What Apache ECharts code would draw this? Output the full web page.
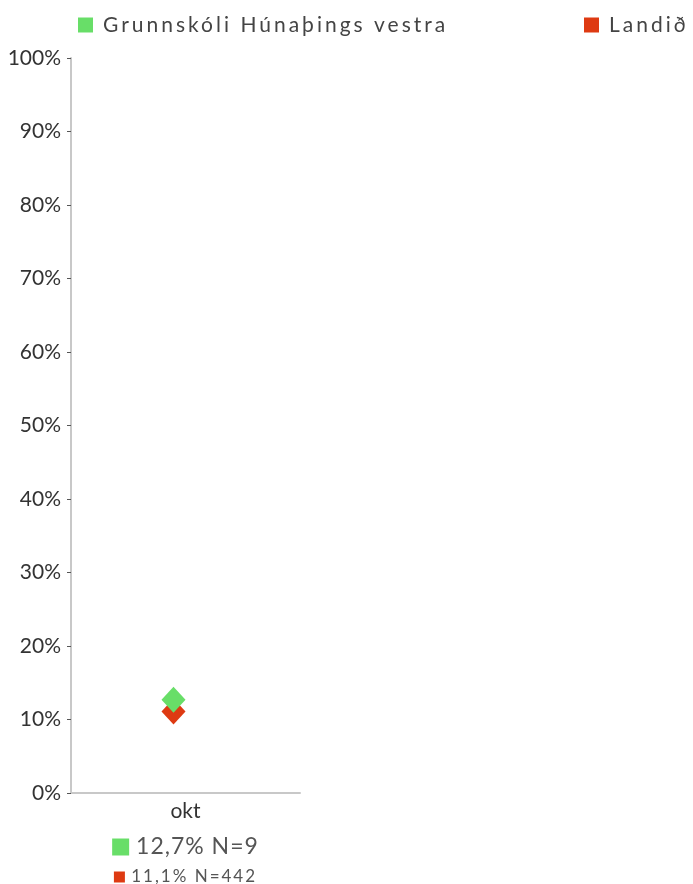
<!DOCTYPE html>
<html>
<head>
<meta charset="utf-8">
<script src="https://cdn.jsdelivr.net/npm/echarts@6/dist/echarts.min.js"></script>
<style>html,body{margin:0;padding:0;background:#fff}#c{width:693px;height:884px}</style>
</head>
<body>
<div id="c"></div>
<script>
const categories = ['okt'];
const seriesNames = ['Grunnskóli Húnaþings vestra', 'Landið'];
const schoolValues = [12.7];
const nationalValues = [11.1];
const schoolN = [9];
const nationalN = [442];
const yTicks = [0, 10, 20, 30, 40, 50, 60, 70, 80, 90, 100];

// letter spacing support: a font family marker "lsN" turns on N px tracking
(function () {
  const P = CanvasRenderingContext2D.prototype;
  if (!('letterSpacing' in P)) return;
  const f = P.fillText, m = P.measureText;
  function apply(ctx) {
    const mm = /ls(\d+(?:\.\d+)?)/.exec(ctx.font);
    ctx.letterSpacing = mm ? mm[1] + 'px' : '0px';
  }
  P.fillText = function () { apply(this); return f.apply(this, arguments); };
  P.measureText = function () { apply(this); return m.apply(this, arguments); };
})();

const GREEN = '#68de68';
const RED = '#de3a12';
const FONT = 'Lato';

function fmt(v) { return v.toFixed(1).replace('.', ','); }

const legendText = {
  formatter: function (name) { return '{t|' + name + '}'; },
  textStyle: {
    fontFamily: 'Lato, ls3', fontSize: 21, color: '#444',
    rich: {t: {fontFamily: 'Lato, ls3', fontSize: 21, color: '#444', padding: [0, 0, 0, 5]}}
  }
};

const chart = echarts.init(document.getElementById('c'), null, {renderer: 'canvas'});
chart.setOption({
  animation: false,
  backgroundColor: '#fff',
  legend: [
    Object.assign({
      data: [seriesNames[0]], left: 78, top: 13, padding: 0, icon: 'rect', itemWidth: 15, itemHeight: 15, itemGap: 8,
      selectedMode: false
    }, legendText),
    Object.assign({
      data: [seriesNames[1]], left: 584, top: 13, padding: 0, icon: 'rect', itemWidth: 15, itemHeight: 15, itemGap: 8,
      selectedMode: false
    }, legendText)
  ],
  grid: {left: 71, top: 58, width: 229, bottom: 91, containLabel: false, outerBoundsMode: 'none'},
  xAxis: {
    type: 'category',
    data: categories,
    boundaryGap: true,
    axisLine: {show: true, lineStyle: {color: '#c8c8c8', width: 2}},
    axisTick: {show: false},
    axisLabel: {
      margin: 0,
      fontFamily: FONT,
      formatter: function (val, idx) {
        return '{c|' + val + '}\n{gs| }{g| ' + fmt(schoolValues[idx]) + '% N=' + schoolN[idx] + '}\n{rs| }{r| ' + fmt(nationalValues[idx]) + '% N=' + nationalN[idx] + '}';
      },
      rich: {
        c: {fontFamily: FONT, fontSize: 21, color: '#333', lineHeight: 36},
        gs: {width: 17, height: 17, backgroundColor: GREEN, lineHeight: 36},
        g: {fontFamily: 'Lato, ls1', fontSize: 23, color: '#555', lineHeight: 36},
        rs: {width: 11, height: 11, backgroundColor: RED, lineHeight: 24},
        r: {fontFamily: 'Lato, ls2', fontSize: 17, color: '#555', lineHeight: 24}
      }
    }
  },
  yAxis: {
    type: 'value',
    min: 0, max: 100, interval: 10,
    axisLine: {show: true, lineStyle: {color: '#c8c8c8', width: 2}},
    axisTick: {show: true, length: 4, lineStyle: {color: '#555', width: 1}},
    splitLine: {show: false},
    axisLabel: {
      margin: 10,
      fontFamily: FONT, fontSize: 21, color: '#333',
      formatter: function (v) { return yTicks.indexOf(v) >= 0 ? v + '%' : ''; }
    }
  },
  series: [
    {
      name: seriesNames[1], type: 'scatter', data: nationalValues,
      symbol: 'diamond', symbolSize: [24, 26], symbolOffset: [-12, 0],
      itemStyle: {color: RED, opacity: 1}, z: 2
    },
    {
      name: seriesNames[0], type: 'scatter', data: schoolValues,
      symbol: 'diamond', symbolSize: [24, 26], symbolOffset: [-12, 0],
      itemStyle: {color: GREEN, opacity: 1}, z: 3
    }
  ]
});
</script>
</body>
</html>
